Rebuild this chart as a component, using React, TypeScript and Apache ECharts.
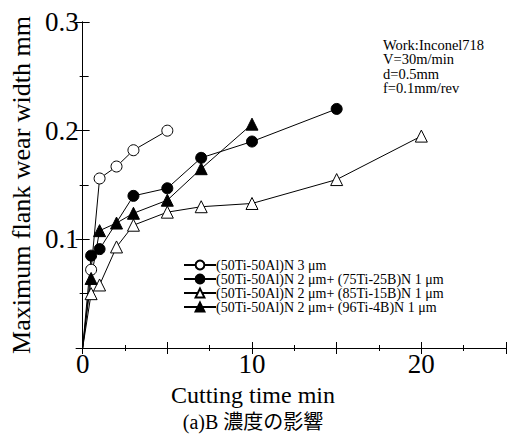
import React, { useEffect, useRef } from "react";
import * as echarts from "echarts";

// Series 1: (50Ti-50Al)N 3 μm  (open circles)
const time1 = [0, 0.5, 1, 2, 3, 5];
const wear1 = [0, 0.072, 0.156, 0.167, 0.182, 0.2];
// Series 2: + (75Ti-25B)N  (filled circles)
const time2 = [0, 0.5, 1, 3, 5, 7, 10, 15];
const wear2 = [0, 0.085, 0.091, 0.14, 0.147, 0.175, 0.19, 0.22];
// Series 3: + (85Ti-15B)N  (open triangles)
const time3 = [0, 0.5, 1, 2, 3, 5, 7, 10, 15, 20];
const wear3 = [0, 0.05, 0.058, 0.093, 0.113, 0.125, 0.13, 0.133, 0.155, 0.195];
// Series 4: + (96Ti-4B)N  (filled triangles)
const time4 = [0, 0.5, 1, 2, 3, 5, 7, 10];
const wear4 = [0, 0.064, 0.108, 0.115, 0.124, 0.136, 0.165, 0.206];

const seriesNames = [
  "(50Ti-50Al)N 3 μm",
  "(50Ti-50Al)N 2 μm+ (75Ti-25B)N 1 μm",
  "(50Ti-50Al)N 2 μm+ (85Ti-15B)N 1 μm",
  "(50Ti-50Al)N 2 μm+ (96Ti-4B)N 1 μm",
];
const xTickLabels = ["0", "10", "20"];
const yTickLabels = ["0.1", "0.2", "0.3"];
const noteLines = ["Work:Inconel718", "V=30m/min", "d=0.5mm", "f=0.1mm/rev"];
const xTitle = "Cutting time min";
const yTitle = "Maximum flank wear width mm";
const caption = "(a)B 濃度の影響";

const SERIF = "'Liberation Serif', 'Times New Roman', serif";

function buildData(t: number[], w: number[]) {
  return t.map((x, i) =>
    i === 0 && x === 0 && w[i] === 0
      ? { value: [x, w[i]], symbol: "none" }
      : { value: [x, w[i]] }
  );
}

export default function App() {
  const ref = useRef<HTMLDivElement>(null);
  useEffect(() => {
    if (!ref.current) return;
    const chart = echarts.init(ref.current, undefined, { renderer: "svg" });
    const mk = (
      name: string,
      t: number[],
      w: number[],
      symbol: string,
      size: number,
      fill: string
    ) => ({
      name,
      type: "line",
      data: buildData(t, w),
      symbol,
      symbolSize: size,
      showAllSymbol: true,
      lineStyle: { color: "#000", width: 1 },
      itemStyle: { color: fill, borderColor: "#000", borderWidth: 1 },
      emphasis: { disabled: true },
      z: 3,
    });
    const axisCommon = {
      axisLine: { show: true, lineStyle: { color: "#000", width: 1 } },
      splitLine: { show: false },
    };
    chart.setOption({
      animation: false,
      backgroundColor: "#fff",
      grid: { left: 80, width: 432, top: 22, height: 326, containLabel: false },
      legend: {
        orient: "vertical",
        left: 183,
        top: 258,
        itemWidth: 32,
        itemHeight: 11,
        itemGap: 0,
        padding: 0,
        selectedMode: false,
        textStyle: {
          fontFamily: SERIF,
          fontSize: 14,
          lineHeight: 14,
          color: "#000",
          padding: [0, 0, 0, -5],
        },
        data: seriesNames,
      },
      xAxis: [
        {
          type: "value",
          min: 0,
          max: 25,
          interval: 5,
          position: "bottom",
          ...axisCommon,
          axisTick: { show: true, inside: true, length: 6, lineStyle: { color: "#000" } },
          minorTick: { show: true, splitNumber: 2, length: 3, lineStyle: { color: "#000" } },
          axisLabel: {
            color: "#000",
            fontFamily: SERIF,
            fontSize: 27,
            margin: 2,
            formatter: (v: number) => {
              const s = String(v);
              return xTickLabels.includes(s) ? s : "";
            },
          },
        },
        {
          type: "value",
          min: 0,
          max: 25,
          interval: 5,
          position: "top",
          ...axisCommon,
          axisTick: { show: true, inside: true, length: 6, lineStyle: { color: "#000" } },
          minorTick: { show: true, splitNumber: 2, length: 3, lineStyle: { color: "#000" } },
          axisLabel: { show: false },
        },
      ],
      yAxis: [
        {
          type: "value",
          min: 0,
          max: 0.3,
          interval: 0.1,
          position: "left",
          ...axisCommon,
          axisTick: { show: true, inside: true, length: 7, lineStyle: { color: "#000" } },
          minorTick: { show: true, splitNumber: 2, length: 6, lineStyle: { color: "#000" } },
          axisLabel: {
            color: "#000",
            fontFamily: SERIF,
            fontSize: 27,
            margin: 4,
            formatter: (v: number) => {
              const s = v.toFixed(1);
              return yTickLabels.includes(s) ? s : "";
            },
          },
          name: yTitle,
          nameLocation: "middle",
          nameGap: 47,
          nameTextStyle: { color: "#000", fontFamily: SERIF, fontSize: 26 },
        },
        {
          type: "value",
          min: 0,
          max: 0.3,
          interval: 0.1,
          position: "right",
          ...axisCommon,
          axisTick: { show: true, inside: true, length: 7, lineStyle: { color: "#000" } },
          minorTick: { show: true, splitNumber: 2, length: 3, lineStyle: { color: "#000" } },
          axisLabel: { show: false },
        },
      ],
      series: [
        mk(seriesNames[0], time1, wear1, "circle", 11, "#fff"),
        mk(seriesNames[1], time2, wear2, "circle", 11, "#000"),
        mk(seriesNames[2], time3, wear3, "triangle", 12, "#fff"),
        mk(seriesNames[3], time4, wear4, "triangle", 12, "#000"),
      ],
      graphic: [
        {
          type: "text",
          left: 383,
          top: 37,
          style: {
            text: noteLines.join("\n"),
            fontFamily: SERIF,
            fontSize: 14.5,
            lineHeight: 14.5,
            fill: "#000",
          },
        },
        {
          type: "text",
          x: 253,
          y: 395,
          style: {
            text: xTitle,
            fontFamily: SERIF,
            fontSize: 24,
            fill: "#000",
            align: "center",
            verticalAlign: "middle",
          },
        },
        {
          type: "text",
          x: 253,
          y: 422,
          style: {
            text: caption,
            fontFamily: "'Liberation Serif', 'Noto Sans CJK JP', serif",
            fontSize: 20,
            fill: "#000",
            align: "center",
            verticalAlign: "middle",
          },
        },
      ],
    });
    return () => chart.dispose();
  }, []);
  return (
    <div
      ref={ref}
      style={{ position: "fixed", left: 0, top: 0, width: 509, height: 447 }}
    />
  );
}
